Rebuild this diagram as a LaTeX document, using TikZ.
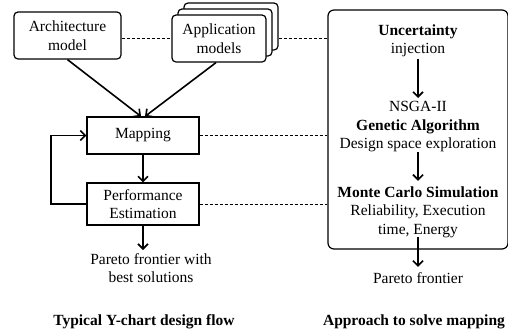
\documentclass[tikz,border=0pt]{standalone}
\usepackage{fontspec}
\setmainfont{Liberation Serif}
\usetikzlibrary{arrows.meta,positioning}

\begin{document}
\begin{tikzpicture}[x=1pt,y=-1pt,
  every node/.style={font=\fontsize{15.5}{18.5}\selectfont, align=center},
  rbox/.style={draw, line width=1.2pt, rounded corners=4pt, fill=white, inner sep=0pt},
  sbox/.style={draw, line width=1.2pt, fill=white, inner sep=0pt},
  txt/.style={inner sep=1.5pt},
  flow/.style={line width=1.6pt, -{Straight Barb[length=5pt,width=10pt,line width=1.6pt]}},
  link/.style={line width=0.8pt, dash pattern=on 3pt off 2pt},
  caption/.style={font=\fontsize{15.5}{18.5}\selectfont\bfseries}]
\useasboundingbox (0,0) rectangle (508,333);

% left: Y-chart design flow
\node[rbox, minimum width=107pt, minimum height=47pt] (arch) at (67.5,35.5) {Architecture\\model};
\node[rbox, minimum width=94pt, minimum height=47pt] (app3) at (231,26.5) {};
\node[rbox, minimum width=94pt, minimum height=47pt] (app2) at (225,32.5) {};
\node[rbox, minimum width=94pt, minimum height=47pt] (app1) at (219,38.5) {Application\\models};

\node[sbox, minimum width=112pt, minimum height=37pt] (map) at (143,135.5) {Mapping};
\node[sbox, minimum width=112pt, minimum height=42pt] (perf) at (143,204) {Performance\\Estimation};
\node[txt] (best) at (151,268) {Pareto frontier with\\best solutions};
\node[caption] (cap1) at (144,322) {Typical Y-chart design flow};

% corner of the feedback loop and end of the result arrow
\coordinate (loop) at (51,204);
\coordinate (bestarrow) at (143,250);

\draw[flow] (arch.south) -- ([xshift=-2pt]map.north);
\draw[flow] ([xshift=-3pt]app1.south) -- ([xshift=2pt]map.north);
\draw[flow] (map.south) -- (perf.north);
\draw[flow] (perf.west) -- (loop) |- (map.west);
\draw[flow] (perf.south) -- (bestarrow);

% right: approach to solve mapping
\node[rbox, minimum width=180pt, minimum height=239pt, rounded corners=6pt] (big) at (418,129.5) {};
\node[txt] (unc) at (418,41) {\textbf{Uncertainty}\\injection};
\node[txt] (ga) at (418,127) {NSGA-II\\\textbf{Genetic Algorithm}\\Design space exploration};
\node[txt] (mc) at (418,212) {\textbf{Monte Carlo Simulation}\\Reliability, Execution\\time, Energy};
\node[txt] (pf) at (418,278) {Pareto frontier};
\node[caption] (cap2) at (414,322) {Approach to solve mapping};

\draw[flow] (unc.south) -- ([yshift=2pt]ga.north);
\draw[flow] ([yshift=2pt]ga.south) -- ([yshift=4pt]mc.north);
\draw[flow] ([yshift=2pt]mc.south) -- ([yshift=4pt]pf.north);

% correspondences between the two flows
\draw[link] (arch.east |- app1.west) -- (app1.west);
\draw[link] (app3.east |- app1.east) -- (big.west |- app1.east);
\draw[link] (map.east) -- (map.east -| big.west);
\draw[link] (perf.east) -- (perf.east -| big.west);
\end{tikzpicture}
\end{document}
